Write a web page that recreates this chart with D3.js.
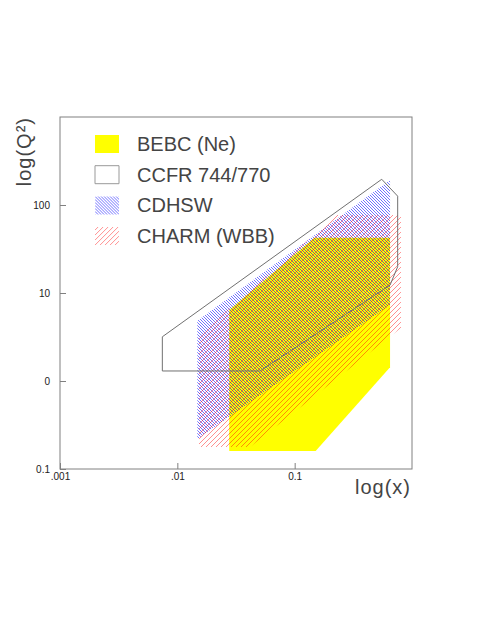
<!DOCTYPE html>
<html>
<head>
<meta charset="utf-8">
<script src="https://cdn.jsdelivr.net/npm/d3@7/dist/d3.min.js"></script>
<style>
  html, body { margin: 0; padding: 0; background: #fff; }
  svg { display: block; }
  text { font-family: "Liberation Sans", Arial, sans-serif; }
</style>
</head>
<body>
<div id="chart"></div>
<script>
// ---- data ----
const xTickValues = [0.001, 0.01, 0.1];
const xTickLabels = [".001", ".01", "0.1"];
const yTickValues = [0.1, 1, 10, 100];
const yTickLabels = ["0.1", "0", "10", "100"];

const seriesNames = ["BEBC (Ne)", "CCFR 744/770", "CDHSW", "CHARM (WBB)"];

const bebcX  = [0.0277, 0.147, 0.65, 0.65, 0.151, 0.0277];
const bebcQ2 = [6.4, 42.5, 42.5, 1.43, 0.16, 0.16];

const ccfrX  = [0.00745, 0.552, 0.755, 0.755, 0.65, 0.0507, 0.00745];
const ccfrQ2 = [3.18, 196, 126, 19.9, 12.3, 1.30, 1.30];

const cdhswX  = [0.0148, 0.0148, 0.65, 0.65];
const cdhswQ2 = [0.219, 4.84, 192, 7.3];

const charmX  = [0.0153, 0.0153, 0.230, 0.805, 0.805, 0.0416];
const charmQ2 = [0.178, 3.33, 77, 77, 4.0, 0.178];

// ---- layout ----
const W = 485, H = 627;
const L = 60, R = 412, T = 117, B = 469;

const svg = d3.select("#chart").append("svg")
  .attr("width", W).attr("height", H);

const x = d3.scaleLog().domain([0.001, 1]).range([L, R]);
const y = d3.scaleLog().domain([0.1, 1000]).range([B, T]);

const defs = svg.append("defs");
const line = d3.line().x(d => x(d[0])).y(d => y(d[1]));
const poly = (xs, ys) => line(xs.map((v, i) => [v, ys[i]])) + "Z";

// hatch helper: fills path d with parallel lines clipped to it
let clipN = 0;
function hatch(parent, d, box, dir, step, color, opacity, width) {
  const id = "hclip" + (clipN++);
  defs.append("clipPath").attr("id", id).append("path").attr("d", d);
  const hg = parent.append("g").attr("clip-path", `url(#${id})`);
  const [x0, y0, x1, y1] = box;
  const span = (x1 - x0) + (y1 - y0);
  let p = "";
  for (let c = -span; c <= span * 2; c += step) {
    if (dir === "\\") {        // down-right
      p += `M${x0},${y0 + c}L${x1},${y0 + c + (x1 - x0)}`;
    } else {                   // up-right
      p += `M${x0},${y0 + c}L${x1},${y0 + c - (x1 - x0)}`;
    }
  }
  hg.append("path").attr("d", p).attr("fill", "none")
    .attr("stroke", color).attr("stroke-opacity", opacity).attr("stroke-width", width);
}
const frameBox = [L - 20, T - 20, R + 20, B + 20];

// clip to frame
defs.append("clipPath").attr("id", "frameClip")
  .append("rect").attr("x", L).attr("y", T).attr("width", R - L).attr("height", B - T);

const g = svg.append("g").attr("clip-path", "url(#frameClip)");
g.append("path").attr("d", poly(bebcX, bebcQ2)).attr("fill", "#ffff00");
hatch(g, poly(cdhswX, cdhswQ2), frameBox, "\\", 3, "#0000ff", 0.62, 0.9);
hatch(g, poly(charmX, charmQ2), frameBox, "/", 5, "#ff0000", 0.55, 0.8);
g.append("path").attr("d", poly(ccfrX, ccfrQ2)).attr("fill", "none")
  .attr("stroke", "#707070").attr("stroke-width", 1);

// frame
svg.append("rect").attr("x", L).attr("y", T).attr("width", R - L).attr("height", B - T)
  .attr("fill", "none").attr("stroke", "#808080").attr("stroke-width", 1);

// axes
const xAxis = d3.axisBottom(x).tickValues(xTickValues)
  .tickFormat((d, i) => xTickLabels[i]).tickSize(-6).tickPadding(4);
const gx = svg.append("g").attr("transform", `translate(0,${B})`).call(xAxis);
const yAxis = d3.axisLeft(y).tickValues(yTickValues)
  .tickFormat((d, i) => yTickLabels[i]).tickSize(-6).tickPadding(10);
const gy = svg.append("g").attr("transform", `translate(${L},0)`).call(yAxis);
[gx, gy].forEach(a => {
  a.select(".domain").remove();
  a.selectAll(".tick line").attr("stroke", "#808080");
  a.selectAll(".tick text").attr("fill", "#222").style("font-size", "10px")
    .style("font-family", '"Liberation Sans", Arial, sans-serif');
});

// axis titles
svg.append("text").attr("x", 411).attr("y", 494).attr("text-anchor", "end")
  .style("font-size", "20px").style("letter-spacing", "1px").attr("fill", "#444")
  .text("log(x)");
svg.append("text").attr("transform", "translate(31,117) rotate(-90)").attr("text-anchor", "end")
  .style("font-size", "20px").style("letter-spacing", "1px").attr("fill", "#444")
  .text("log(Q²)");

// legend
const lg = svg.append("g");
seriesNames.forEach((name, i) => {
  const yy = 135 + i * 30.7;
  const rd = `M95,${yy}h24v18h-24Z`;
  const box = [95, yy, 119, yy + 18];
  if (i === 0) {
    lg.append("path").attr("d", rd).attr("fill", "#ffff00");
  } else if (i === 1) {
    lg.append("path").attr("d", rd).attr("fill", "#fff").attr("stroke", "#999");
  } else if (i === 2) {
    hatch(lg, rd, box, "\\", 3, "#0000ff", 0.62, 0.9);
  } else {
    hatch(lg, rd, box, "/", 5, "#ff0000", 0.55, 0.8);
  }
  lg.append("text").attr("x", 137).attr("y", yy + 16)
    .style("font-size", "20px").attr("fill", "#444")
    .text(name);
});
</script>
</body>
</html>
